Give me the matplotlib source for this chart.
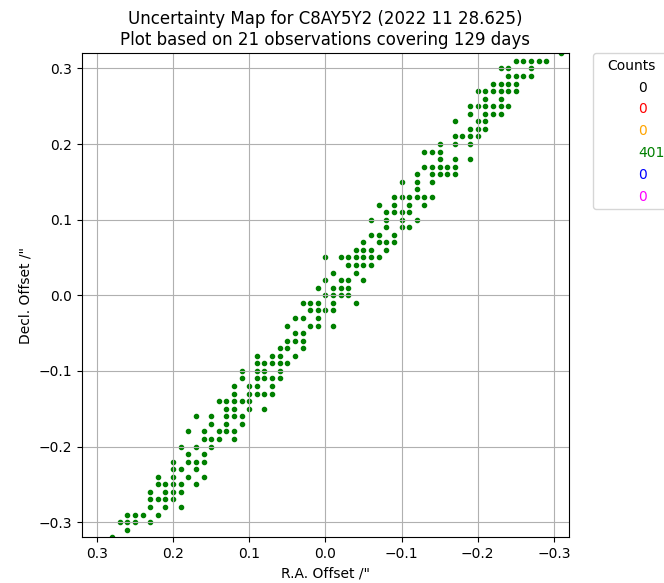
import matplotlib
matplotlib.use("Agg")
import matplotlib.pyplot as plt
from matplotlib.lines import Line2D
import numpy as np

# Offsets of the sampled orbits, grouped by declination row ("),
# each row holding the R.A. offsets (") found at that declination.
dec_rows = [0.32, 0.31, 0.30, 0.29, 0.28, 0.27, 0.26, 0.25, 0.24, 0.23, 0.22,
            0.21, 0.20, 0.19, 0.18, 0.17, 0.16, 0.15, 0.14, 0.13, 0.12, 0.11,
            0.10, 0.09, 0.08, 0.07, 0.06, 0.05, 0.04, 0.03, 0.02, 0.01, 0.00,
            -0.01, -0.02, -0.03, -0.04, -0.05, -0.06, -0.07, -0.08, -0.09,
            -0.10, -0.11, -0.12, -0.13, -0.14, -0.15, -0.16, -0.17, -0.18,
            -0.19, -0.20, -0.21, -0.22, -0.23, -0.24, -0.25, -0.26, -0.27,
            -0.28, -0.29, -0.30, -0.31, -0.32]
ra_rows = [
    [-0.31],
    [-0.25, -0.26, -0.27, -0.28, -0.29],
    [-0.23, -0.24, -0.27],
    [-0.24, -0.25, -0.26, -0.27],
    [-0.22, -0.23, -0.24, -0.25],
    [-0.20, -0.21, -0.22, -0.23, -0.24, -0.25],
    [-0.21, -0.23],
    [-0.19, -0.20, -0.21, -0.22, -0.23, -0.24],
    [-0.19, -0.21, -0.22, -0.23],
    [-0.17, -0.20, -0.21],
    [-0.19, -0.20, -0.21],
    [-0.17, -0.18, -0.19, -0.20],
    [-0.15, -0.17, -0.19],
    [-0.13, -0.14, -0.15],
    [-0.15, -0.17, -0.19],
    [-0.13, -0.14, -0.15, -0.16, -0.17],
    [-0.12, -0.14, -0.15, -0.16, -0.17],
    [-0.10, -0.12, -0.14],
    [-0.12],
    [-0.09, -0.10, -0.11, -0.12, -0.13, -0.14],
    [-0.07, -0.09, -0.11, -0.13],
    [-0.08, -0.09, -0.10, -0.11],
    [-0.06, -0.08, -0.10, -0.12],
    [-0.08, -0.10, -0.11],
    [-0.06, -0.07, -0.09],
    [-0.05, -0.07, -0.08, -0.09],
    [-0.04, -0.05, -0.06, -0.08],
    [0.00, -0.02, -0.03, -0.04, -0.05, -0.06, -0.07],
    [-0.03, -0.04, -0.05, -0.06],
    [-0.01, -0.04],
    [0.00, -0.02, -0.03, -0.05],
    [0.01, -0.01, -0.02, -0.03],
    [0.00, -0.01, -0.02, -0.03],
    [0.03, 0.02, 0.01, -0.01, -0.04],
    [0.02, 0.01, 0.00, -0.01],
    [0.04, 0.03, 0.01],
    [0.05, 0.02, 0.01, -0.01],
    [0.04, 0.03],
    [0.05, 0.04, 0.03],
    [0.06, 0.05, 0.03],
    [0.09, 0.07, 0.06, 0.04],
    [0.09, 0.08, 0.07, 0.06, 0.05],
    [0.11, 0.09, 0.08, 0.06],
    [0.11, 0.09, 0.08, 0.07, 0.06],
    [0.12, 0.10, 0.09, 0.07],
    [0.12, 0.10, 0.09, 0.08, 0.07],
    [0.14, 0.13, 0.12, 0.11, 0.10],
    [0.13, 0.12, 0.10, 0.08],
    [0.17, 0.15, 0.13, 0.12, 0.11],
    [0.15, 0.13, 0.11],
    [0.18, 0.16, 0.14, 0.13, 0.12],
    [0.16, 0.15, 0.14, 0.12],
    [0.19, 0.17, 0.15],
    [0.18, 0.16],
    [0.20, 0.18, 0.17, 0.16],
    [0.20, 0.19, 0.17],
    [0.22, 0.20, 0.18, 0.16],
    [0.22, 0.21, 0.20, 0.19, 0.17],
    [0.23, 0.21, 0.20, 0.19],
    [0.23, 0.22, 0.21, 0.20],
    [0.23, 0.21, 0.19],
    [0.26, 0.25, 0.24, 0.22],
    [0.27, 0.26, 0.25, 0.23],
    [0.26],
    [0.28],
]

# legend: number of orbits in each score class
count_values = [0, 0, 0, 401, 0, 0]
count_colors = ["black", "red", "orange", "green", "blue", "magenta"]

obj_name = "C8AY5Y2"
epoch = "2022 11 28.625"
n_obs = 21
n_days = 129

ra = np.concatenate([np.array(r) for r in ra_rows])
dec = np.concatenate([[d] * len(r) for d, r in zip(dec_rows, ra_rows)])

fig = plt.figure(figsize=(6.64, 5.83), dpi=100)
ax = fig.add_axes([0.123, 0.0784, 0.734, 0.8302])

ax.scatter(ra, dec, s=9, c="green")
ax.set_xlim(0.32, -0.32)
ax.set_ylim(-0.32, 0.32)
ax.set_xticks([0.3, 0.2, 0.1, 0.0, -0.1, -0.2, -0.3])
ax.set_yticks([-0.3, -0.2, -0.1, 0.0, 0.1, 0.2, 0.3])
ax.grid(True)

ax.set_xlabel('R.A. Offset /"')
ax.set_ylabel('Decl. Offset /"')
ax.set_title(f"Uncertainty Map for {obj_name} ({epoch})\n"
             f"Plot based on {n_obs} observations covering {n_days} days",
             fontsize=12)

handles = [Line2D([], [], linestyle="none") for _ in count_values]
leg = ax.legend(handles, [str(n) for n in count_values], title="Counts",
                bbox_to_anchor=(1.05, 1), loc="upper left",
                borderaxespad=0, labelspacing=0.56)
for txt, col in zip(leg.get_texts(), count_colors):
    txt.set_color(col)

fig.savefig("out.png", dpi=100)
